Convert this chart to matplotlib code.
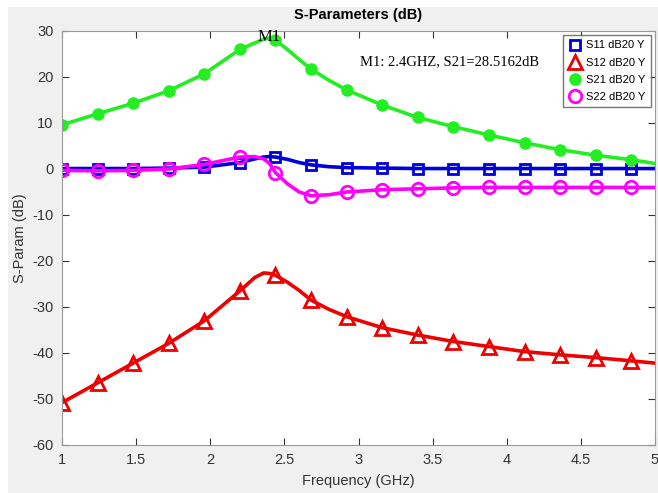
import matplotlib
matplotlib.use("Agg")
import matplotlib.pyplot as plt
from matplotlib.patches import Rectangle

# frequency points (GHz); markers sit on the 0.24 GHz grid
freq = [1.0, 1.24, 1.48, 1.72, 1.96, 2.2, 2.3, 2.36, 2.4, 2.44, 2.52, 2.6, 2.68, 2.8,
        2.92, 3.16, 3.4, 3.64, 3.88, 4.12, 4.36, 4.6, 4.84, 5.0]
marker_idx = [0, 1, 2, 3, 4, 5, 9, 12, 14, 15, 16, 17, 18, 19, 20, 21, 22]

s11 = [0.1, 0.1, 0.1, 0.2, 0.4, 1.4, 2.2, 2.6, 2.7, 2.6, 2.1, 1.4, 0.9, 0.5,
       0.3, 0.2, 0.1, 0.1, 0.1, 0.1, 0.1, 0.1, 0.1, 0.1]
s12 = [-50.8, -46.5, -42.2, -37.9, -33.0, -26.5, -23.6, -22.6, -22.7, -23.1, -24.6, -26.4, -28.5, -30.5,
       -32.1, -34.5, -36.1, -37.5, -38.6, -39.7, -40.4, -41.0, -41.7, -42.2]
s21 = [9.6, 12.0, 14.3, 17.0, 20.7, 26.0, 27.4, 28.2, 28.5, 28.0, 26.0, 23.8, 21.7, 19.3,
       17.2, 13.9, 11.2, 9.2, 7.4, 5.7, 4.2, 3.0, 2.0, 1.2]
s22 = [-0.3, -0.4, -0.3, 0.0, 1.0, 2.6, 2.7, 2.2, 1.2, -0.8, -3.2, -5.0, -5.8, -5.6,
       -5.0, -4.5, -4.3, -4.1, -4.0, -4.0, -4.0, -4.0, -4.0, -4.0]

labels = ["S11 dB20 Y", "S12 dB20 Y", "S21 dB20 Y", "S22 dB20 Y"]
xticks = [1, 1.5, 2, 2.5, 3, 3.5, 4, 4.5, 5]
yticks = [-60, -50, -40, -30, -20, -10, 0, 10, 20, 30]

plt.rcParams["font.family"] = ["Liberation Sans", "DejaVu Sans"]
plt.rcParams["axes.unicode_minus"] = False

fig = plt.figure(figsize=(6.58, 4.93), dpi=100)
fig.patch.set_facecolor("white")
# gray matlab style panel
fig.patches.append(Rectangle((8/658, 0), 1, 1 - 7/493, transform=fig.transFigure,
                             facecolor="#f0f0f0", edgecolor="none", zorder=-1))

ax = fig.add_axes([62/658, 48/493, 593/658, 414/493])

ax.plot(freq, s11, color="#0000dd", lw=2.6, marker="s", ms=7, mfc="none", mew=2,
        markevery=marker_idx, label=labels[0])
ax.plot(freq, s12, color="#ee0000", lw=2.6, marker="^", ms=10, mfc="none", mew=2,
        markevery=marker_idx, label=labels[1])
ax.plot(freq, s21, color="#22ee22", lw=2.6, marker="o", ms=8,
        markevery=marker_idx, label=labels[2])
ax.plot(freq, s22, color="#ff00ff", lw=2.6, marker="o", ms=9, mfc="none", mew=2,
        markevery=marker_idx, label=labels[3])

ax.set_xlim(1, 5)
ax.set_ylim(-60, 30)
ax.set_xticks(xticks)
ax.set_xticklabels(["1", "1.5", "2", "2.5", "3", "3.5", "4", "4.5", "5"])
ax.set_yticks(yticks)
ax.tick_params(direction="in", top=True, right=True, labelsize=10.5,
               colors="#333333", length=5, pad=6)
for s in ax.spines.values():
    s.set_color("#999999")

ax.set_title("S-Parameters (dB)", fontsize=10.5, fontweight="bold", pad=9)
ax.set_xlabel("Frequency (GHz)", fontsize=10.5, color="#333333", labelpad=5)
ax.set_ylabel("S-Param (dB)", fontsize=10.5, color="#333333", labelpad=4)

ax.text(2.4, 28.6, "M1", family="Liberation Serif", fontsize=12, ha="center", va="center")
ax.text(3.01, 23.3, "M1: 2.4GHZ, S21=28.5162dB", family="Liberation Serif", fontsize=10.5,
        va="center")

leg = ax.legend(loc="upper right", fontsize=8, frameon=True, fancybox=False,
                edgecolor="#555555", borderaxespad=0.4, handlelength=1.1,
                handletextpad=0.5, labelspacing=0.65, borderpad=0.45)
for h in leg.get_lines():
    h.set_linestyle("none")

fig.savefig("out.png", dpi=100)
